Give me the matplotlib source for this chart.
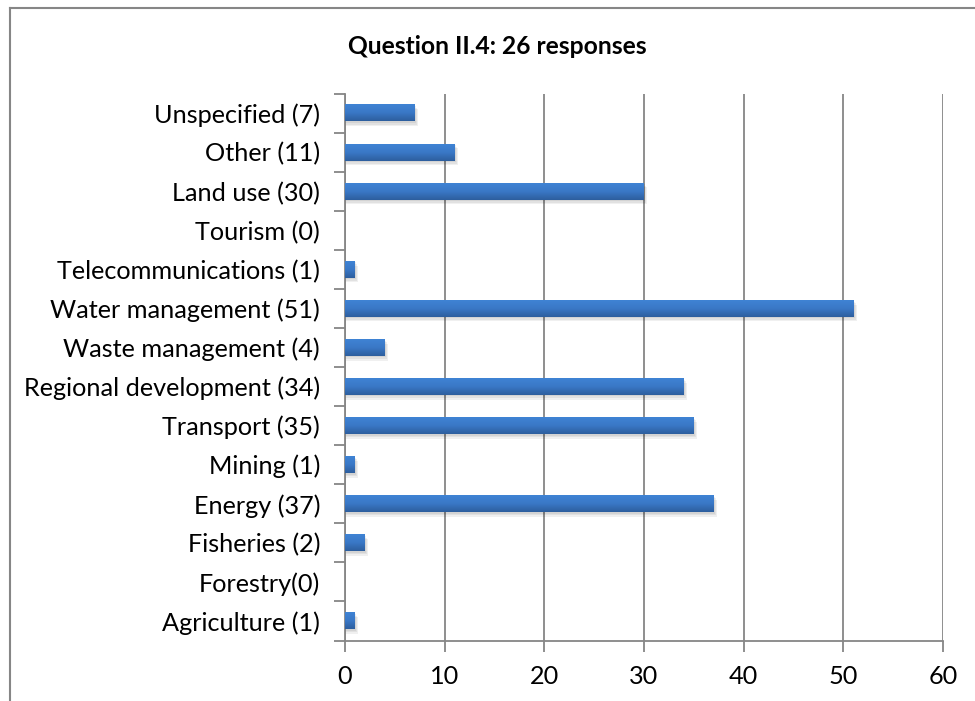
import numpy as np
import matplotlib
matplotlib.use('Agg')
import matplotlib.pyplot as plt
from matplotlib.lines import Line2D
from matplotlib.colors import LinearSegmentedColormap

categorias = ['Agriculture (1)', 'Forestry(0)', 'Fisheries (2)', 'Energy (37)', 'Mining (1)',
              'Transport (35)', 'Regional development (34)', 'Waste management (4)',
              'Water management (51)', 'Telecommunications (1)', 'Tourism (0)',
              'Land use (30)', 'Other (11)', 'Unspecified (7)']
valores = [1, 0, 2, 37, 1, 35, 34, 4, 51, 1, 0, 30, 11, 7]
x_ticks = [0, 10, 20, 30, 40, 50, 60]
titulo = 'Question II.4: 26 responses'

plt.rcParams['font.family'] = ['Lato', 'DejaVu Sans']

fig = plt.figure(figsize=(9.75, 7.01), dpi=100)
ax = fig.add_axes([345/975, 1 - 640.5/701, (943 - 345)/975, (640.5 - 93.5)/701])

gris = '#868686'
degradado = LinearSegmentedColormap.from_list('barra', ['#3f83d4', '#3a78c6', '#2d5e9e'])
grad = np.linspace(0, 1, 64).reshape(-1, 1)
alto = 0.43

y = np.arange(len(categorias))
for yi, v in zip(y, valores):
    if v <= 0:
        continue
    # sombra suave
    for k, a in enumerate([0.06, 0.06, 0.06]):
        d = 0.04 * (k + 1)
        ax.add_patch(plt.Rectangle((0.05, yi - alto/2 - d), v + 0.1 * (k + 1), alto,
                                   color='#000000', alpha=a, lw=0, zorder=2))
    ax.imshow(grad, cmap=degradado, aspect='auto', interpolation='bilinear',
              extent=[0, v, yi - alto/2, yi + alto/2], zorder=3)

ax.set_xlim(0, 60)
ax.set_ylim(-0.5, len(categorias) - 0.5)
ax.set_xticks(x_ticks)
ax.set_yticks(y)
ax.set_yticklabels(categorias)
ax.set_yticks(np.arange(-0.5, len(categorias), 1), minor=True)
ax.tick_params(axis='y', which='major', length=0, pad=18, labelsize=18.2)
ax.tick_params(axis='y', which='minor', length=8, width=1.3, color=gris)
ax.tick_params(axis='x', length=8, width=1.3, color=gris, labelsize=18.2, pad=10)
ax.xaxis.grid(True, color=gris, lw=1.3)
ax.set_axisbelow(True)
for lado in ['top', 'right']:
    ax.spines[lado].set_visible(False)
for lado in ['left', 'bottom']:
    ax.spines[lado].set_color(gris)
    ax.spines[lado].set_linewidth(1.3)

fig.text(497.5/975, 1 - 46/701, titulo, ha='center', va='center', fontsize=17.7, fontweight='bold')

# marco exterior
fig.add_artist(Line2D([10/975, 1], [1 - 8/701, 1 - 8/701], color=gris, lw=1.5, transform=fig.transFigure))
fig.add_artist(Line2D([10/975, 10/975], [0, 1 - 8/701], color=gris, lw=1.5, transform=fig.transFigure))

fig.savefig('out.png', dpi=100)
